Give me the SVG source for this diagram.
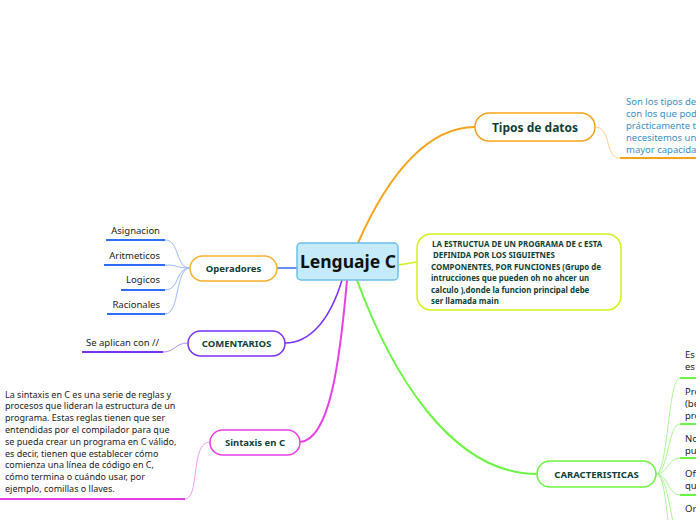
<svg xmlns="http://www.w3.org/2000/svg" width="696" height="520" viewBox="0 0 696 520">
<style>
.nt{font-family:"Noto Sans","Open Sans",sans-serif;font-weight:bold;fill:#0f3f36;text-anchor:middle}
.tx{font-family:"Noto Sans","Open Sans",sans-serif;font-size:9.5px;fill:#222}
.c{fill:none}
</style>
<rect width="696" height="520" fill="#fff"/>
<g id="connectors">
<path class="c" d="M358,243 C390,170 430,127 475,127" stroke="#f7a21b" stroke-width="2"/>
<path class="c" d="M595,127 C612,127 604,158 620,158" stroke="#fcd08a" stroke-width="1"/>
<path d="M620,158 L696,158" stroke="#f7a21b" stroke-width="2"/>
<path class="c" d="M398,265 L417,262" stroke="#d4f01c" stroke-width="1.5"/>
<path class="c" d="M297,268 L277,268" stroke="#2f6df6" stroke-width="1.5"/>
<path class="c" d="M190,268 C175,268 180,240 165,240" stroke="#9bb9fb" stroke-width="1"/>
<path class="c" d="M190,268 C175,268 180,265 165,265" stroke="#9bb9fb" stroke-width="1"/>
<path class="c" d="M190,268 C175,268 180,290 165,290" stroke="#9bb9fb" stroke-width="1"/>
<path class="c" d="M190,268 C175,268 180,314 165,314" stroke="#9bb9fb" stroke-width="1"/>
<path d="M106,240 H165 M104,265 H165 M121,290 H165 M107,314 H165" stroke="#2f6df6" stroke-width="2"/>
<path class="c" d="M342,280 C330,320 310,343 285,343" stroke="#7b2ff7" stroke-width="1.5"/>
<path class="c" d="M188,343 C175,343 175,352 163,352" stroke="#b18cf9" stroke-width="1"/>
<path d="M82,352 H163" stroke="#7b2ff7" stroke-width="2"/>
<path class="c" d="M347,280 C340,360 330,440 300,442" stroke="#e83ee8" stroke-width="2"/>
<path class="c" d="M210,442 C190,442 200,499 185,499" stroke="#f29cf2" stroke-width="1"/>
<path d="M0,499 H185" stroke="#e83ee8" stroke-width="2"/>
<path class="c" d="M357,280 C390,370 450,474 537,474" stroke="#6cf542" stroke-width="2"/>
<g stroke="#a8f993" stroke-width="1" fill="none">
<path d="M656,474 C668,474 668,378 680,378"/>
<path d="M656,474 C668,474 668,424 680,424"/>
<path d="M656,474 C668,474 668,458 680,458"/>
<path d="M656,474 C668,474 668,495 680,495"/>
<path d="M656,474 C666,474 666,520 670,530"/>
<path d="M656,474 C668,474 670,520 676,530"/>
</g>
<path d="M680,378 H696 M680,424 H696 M680,458 H696 M680,495 H696" stroke="#6cf542" stroke-width="2"/>
</g>
<g id="n-central">
<rect x="297" y="243" width="101" height="37" rx="4" fill="#c5eafa" stroke="#6bc0e8" stroke-width="1.5"/>
<text x="348" y="268" font-family="Noto Sans,Open Sans,sans-serif" font-size="17.5" font-weight="bold" fill="#111" text-anchor="middle">Lenguaje C</text>
</g>
<g id="n-tipos">
<rect x="475" y="113" width="120" height="28" rx="14" fill="#fff" stroke="#f7a21b" stroke-width="1.5"/>
<text class="nt" x="535" y="131.5" font-size="12">Tipos de datos</text>
</g>
<g id="n-tipos-text" font-family="Noto Sans,Open Sans,sans-serif" font-size="9.5" fill="#3a8ec4">
<text x="626" y="105">Son los tipos de</text>
<text x="626" y="117">con los que podr</text>
<text x="626" y="129">prácticamente to</text>
<text x="626" y="141">necesitemos un</text>
<text x="626" y="153">mayor capacidad</text>
</g>
<g id="n-estructura">
<rect x="417" y="234" width="204" height="76" rx="14" fill="#fff" stroke="#d4f01c" stroke-width="1.5"/>
<g font-family="Noto Sans,Open Sans,sans-serif" font-size="7.9" font-weight="bold" fill="#0f3f36">
<text x="432" y="247">LA ESTRUCTUA DE UN PROGRAMA DE c  ESTA</text>
<text x="433" y="258">DEFINIDA POR LOS SIGUIETNES</text>
<text x="431" y="270">COMPONENTES, POR FUNCIONES (Grupo de</text>
<text x="431" y="281">intrucciones que pueden oh no ahcer un</text>
<text x="431" y="293">calculo ),donde la funcion principal debe</text>
<text x="431" y="304">ser llamada main</text>
</g>
</g>
<g id="n-operadores">
<rect x="190" y="256" width="87" height="25" rx="12.5" fill="#fff" stroke="#f7b02b" stroke-width="1.5"/>
<text class="nt" x="233.5" y="272" font-size="9.5">Operadores</text>
</g>
<g id="n-op-children" class="tx" text-anchor="end">
<text x="160" y="234" text-anchor="end">Asignacion</text>
<text x="160" y="259" text-anchor="end">Aritmeticos</text>
<text x="160" y="283" text-anchor="end">Logicos</text>
<text x="160" y="308" text-anchor="end">Racionales</text>
</g>
<g id="n-comentarios">
<rect x="188" y="331" width="97" height="25" rx="12.5" fill="#fff" stroke="#7b2ff7" stroke-width="1.5"/>
<text class="nt" x="236.5" y="347" font-size="9.5">COMENTARIOS</text>
</g>
<g id="n-com-child">
<text class="tx" x="86" y="346">Se aplican con //</text>
</g>
<g id="n-sintaxis">
<rect x="210" y="430" width="90" height="25" rx="12.5" fill="#fff" stroke="#e83ee8" stroke-width="1.5"/>
<text class="nt" x="255" y="446" font-size="9.5">Sintaxis en C</text>
</g>
<g id="n-sintaxis-text" font-family="Noto Sans,Open Sans,sans-serif" font-size="9" fill="#222">
<text x="5" y="397.5">La sintaxis en C es una serie de reglas y</text>
<text x="5" y="409.3">procesos que lideran la estructura de un</text>
<text x="5" y="421.1">programa. Estas reglas tienen que ser</text>
<text x="5" y="432.9">entendidas por el compilador para que</text>
<text x="5" y="444.7">se pueda crear un programa en C válido,</text>
<text x="5" y="456.5">es decir, tienen que establecer cómo</text>
<text x="5" y="468.3">comienza una línea de código en C,</text>
<text x="5" y="480.1">cómo termina o cuándo usar, por</text>
<text x="5" y="491.9">ejemplo, comillas o llaves.</text>
</g>
<g id="n-caracteristicas">
<rect x="537" y="461" width="119" height="26" rx="13" fill="#fff" stroke="#6cf542" stroke-width="1.5"/>
<text class="nt" x="596.5" y="478" font-size="9.5">CARACTERISTICAS</text>
</g>
<g id="n-car-children" class="tx">
<text x="685" y="358">Es</text>
<text x="685" y="370">es</text>
<text x="685" y="395">Pro</text>
<text x="685" y="407">(be</text>
<text x="685" y="419">pro</text>
<text x="685" y="442">No</text>
<text x="685" y="454">pu</text>
<text x="685" y="477">Ofi</text>
<text x="685" y="489">qu</text>
<text x="685" y="512">Or</text>
</g>
</svg>
